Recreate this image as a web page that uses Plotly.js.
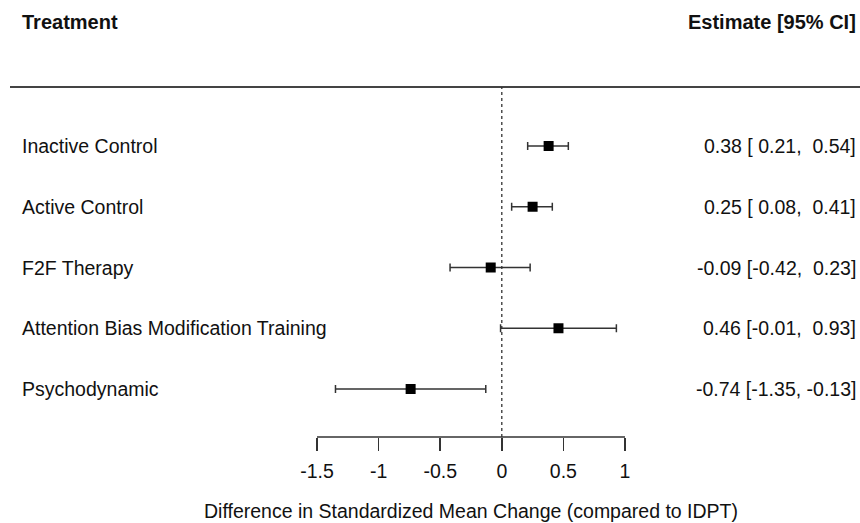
<!DOCTYPE html>
<html>
<head>
<meta charset="utf-8">
<script src="https://cdn.plot.ly/plotly-3.0.1.min.js"></script>
<style>html,body{margin:0;padding:0;background:#fff;}#chart{width:860px;height:523px;}</style>
</head>
<body>
<div id="chart"></div>
<script>
const treatments = ["Inactive Control", "Active Control", "F2F Therapy", "Attention Bias Modification Training", "Psychodynamic"];
const estimates = [0.38, 0.25, -0.09, 0.46, -0.74];
const ciLower = [0.21, 0.08, -0.42, -0.01, -1.35];
const ciUpper = [0.54, 0.41, 0.23, 0.93, -0.13];
const estimateLabels = ["0.38 [ 0.21,  0.54]", "0.25 [ 0.08,  0.41]", "-0.09 [-0.42,  0.23]", "0.46 [-0.01,  0.93]", "-0.74 [-1.35, -0.13]"];
const tickValues = [-1.5, -1, -0.5, 0, 0.5, 1];
const tickLabels = ["-1.5", "-1", "-0.5", "0", "0.5", "1"];

const rowY = treatments.map((_, i) => treatments.length - i);
const FONT = "Liberation Sans, Arial, sans-serif";
const TXT = "#111";
const FS = 19.5;

const trace = {
  x: estimates,
  y: rowY,
  type: "scatter",
  mode: "markers",
  marker: {symbol: "square", size: 10, color: "#000"},
  error_x: {
    type: "data", symmetric: false,
    array: estimates.map((e, i) => ciUpper[i] - e),
    arrayminus: estimates.map((e, i) => e - ciLower[i]),
    color: "#333", thickness: 1.5, width: 4
  },
  hoverinfo: "skip",
  showlegend: false
};

const yTop = 5.971;
const yMin = 0.21;

const annotations = [];
treatments.forEach((t, i) => {
  annotations.push({x: 20/860, xref: "paper", y: rowY[i], yref: "y", text: t, showarrow: false,
    xanchor: "left", yanchor: "middle", font: {family: FONT, size: FS, color: TXT}});
  annotations.push({x: 858/860, xref: "paper", y: rowY[i], yref: "y", text: estimateLabels[i], showarrow: false,
    xanchor: "right", yanchor: "middle", font: {family: FONT, size: FS, color: TXT}});
});
annotations.push({x: 20/860, xref: "paper", y: 7.041, yref: "y", text: "<b>Treatment</b>", showarrow: false,
  xanchor: "left", yanchor: "middle", font: {family: FONT, size: 20, color: TXT}});
annotations.push({x: 858/860, xref: "paper", y: 7.041, yref: "y", text: "<b>Estimate [95% CI]</b>", showarrow: false,
  xanchor: "right", yanchor: "middle", font: {family: FONT, size: 20, color: TXT}});
annotations.push({x: 471.5/860, xref: "paper", y: -74/437, yref: "paper", text: "Difference in Standardized Mean Change (compared to IDPT)", showarrow: false,
  xanchor: "center", yanchor: "middle", font: {family: FONT, size: FS, color: TXT}});

const layout = {
  width: 860, height: 523,
  margin: {l: 0, r: 0, t: 0, b: 86, pad: 0},
  paper_bgcolor: "#fff", plot_bgcolor: "#fff",
  xaxis: {
    range: [-501.8/123.2, (860-501.8)/123.2],
    showgrid: false, zeroline: false, showline: false,
    tickmode: "array", tickvals: tickValues, ticktext: tickLabels,
    ticks: "outside", ticklen: 13, tickwidth: 1.5, tickcolor: "#333",
    ticklabelstandoff: 4,
    tickfont: {family: FONT, size: FS, color: TXT}
  },
  yaxis: {
    range: [yMin, 1 + 389/60.75],
    showgrid: false, zeroline: false, showline: false, showticklabels: false, ticks: ""
  },
  shapes: [
    {type: "line", xref: "paper", yref: "y", x0: 10/860, x1: 1, y0: yTop, y1: yTop, line: {color: "#444", width: 2}},
    {type: "line", xref: "x", yref: "y", x0: 0, x1: 0, y0: yMin, y1: yTop, line: {color: "#333", width: 1.3, dash: "dot"}},
    {type: "line", xref: "x", yref: "paper", x0: tickValues[0], x1: tickValues[tickValues.length-1], y0: 0, y1: 0, line: {color: "#333", width: 1.5}}
  ],
  annotations: annotations
};

Plotly.newPlot("chart", [trace], layout, {displayModeBar: false, staticPlot: true});
</script>
</body>
</html>
